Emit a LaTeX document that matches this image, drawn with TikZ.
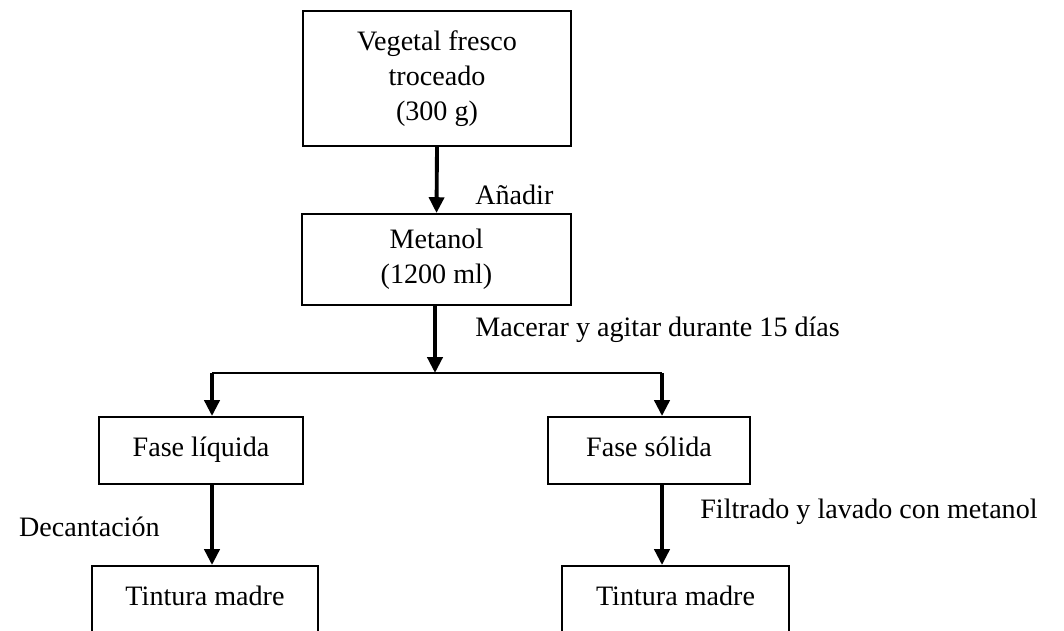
\documentclass[tikz,border=0pt]{standalone}
\usepackage{fontspec}
\setmainfont{Liberation Serif}
\usepackage{tikz}
\usetikzlibrary{arrows.meta, positioning, calc}
\tikzstyle{stepbox} = [rectangle, align=center, draw=black, line width=1.1pt, font=\fontsize{16}{20}\selectfont]
\tikzstyle{oneline} = [text height=2.3ex, text depth=0.9ex]
\tikzstyle{note} = [font=\fontsize{16}{20}\selectfont, inner sep=0pt]
\tikzstyle{arrow} = [line width=2.2pt, -{Triangle[length=9pt, width=8.5pt]}]
\tikzstyle{link} = [line width=1.1pt]

\begin{document}
\begin{tikzpicture}[x=0.02cm, y=-0.02cm]
\useasboundingbox (0,0) rectangle (1064,631);

\node [stepbox, minimum width=5.36cm, minimum height=2.7cm] (veg) at (437,78.5) {Vegetal fresco\\troceado\\(300 g)};
\node [stepbox, minimum width=5.38cm, minimum height=1.82cm] (met) at (436.5,259.5) {Metanol\\(1200 ml)};
\node [stepbox, oneline, minimum width=4.08cm, minimum height=1.34cm] (liq) at (201,450.5) {Fase líquida};
\node [stepbox, oneline, minimum width=4.04cm, minimum height=1.34cm] (sol) at (649,450.5) {Fase sólida};
\node [stepbox, oneline, minimum width=4.52cm, minimum height=1.34cm] (tin1) at (205,599.5) {Tintura madre};
\node [stepbox, oneline, minimum width=4.54cm, minimum height=1.34cm] (tin2) at (675.5,599.5) {Tintura madre};

\coordinate (split) at (435,373);
\coordinate (bl) at (212,373);
\coordinate (br) at (662,373);

\draw [arrow] (veg.south) -- (met.north);
\draw [arrow] (split |- met.south) -- (split);
\draw [link] (bl) -- (br);
\draw [arrow] (bl) -- (bl |- liq.north);
\draw [arrow] (br) -- (br |- sol.north);
\draw [arrow] (bl |- liq.south) -- (bl |- tin1.north);
\draw [arrow] (br |- sol.south) -- (br |- tin2.north);

\node [note, anchor=west] (add) at (475,195) {Añadir};
\node [note, anchor=west] (mac) at (475,330) {Macerar y agitar durante 15 días};
\node [note, anchor=east] (dec) at (160,527) {Decantación};
\node [note, anchor=west] (fil) at (700,512) {Filtrado y lavado con metanol};
\end{tikzpicture}
\end{document}
